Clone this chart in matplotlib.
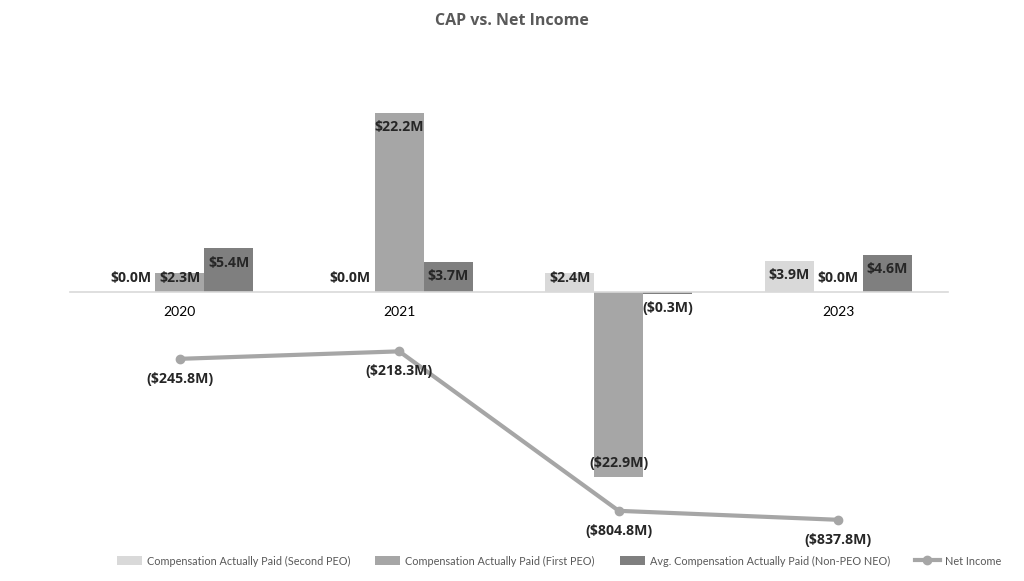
import numpy as np
import matplotlib
matplotlib.use("Agg")
import matplotlib.pyplot as plt
from matplotlib.lines import Line2D
from matplotlib.patches import Patch

plt.rcParams['font.family'] = ['Lato', 'DejaVu Sans']
bold_font = ['Open Sans', 'DejaVu Sans']

# data (in $M)
years = ['2020', '2021', '2022', '2023']
cap_second_peo = [0.0, 0.0, 2.4, 3.9]
cap_first_peo = [2.3, 22.2, -22.9, 0.0]
cap_non_peo = [5.4, 3.7, -0.3, 4.6]
net_income = [-245.8, -218.3, -804.8, -837.8]

series_names = ['Compensation Actually Paid (Second PEO)',
                'Compensation Actually Paid (First PEO)',
                'Avg. Compensation Actually Paid (Non-PEO NEO)']
bar_colors = ['#D9D9D9', '#A6A6A6', '#7F7F7F']
line_color = '#A6A6A6'
text_gray = '#595959'


def fmt(v):
    if v < 0:
        return '(${:.1f}M)'.format(abs(v))
    return '${:.1f}M'.format(v)


fig = plt.figure(figsize=(10.24, 5.81), dpi=100)
ax = fig.add_axes([70 / 1024, 47 / 581, 878 / 1024, 484 / 581])
ax2 = ax.twinx()

x = np.arange(len(years))
w = 0.223
for i, (vals, col) in enumerate(zip([cap_second_peo, cap_first_peo, cap_non_peo], bar_colors)):
    xs = x + (i - 1) * w
    ax.bar(xs, vals, width=w, color=col, zorder=2)
    for xi, v in zip(xs, vals):
        if v >= 0:
            ty = max(v - 1.75, 1.75)
        else:
            ty = min(v + 1.75, -2.0)
        ax.text(xi, ty, fmt(v), ha='center', va='center', fontsize=10.2,
                fontweight='bold', family=bold_font, color='#262626', zorder=4)

ax.set_xlim(-0.5, 3.5)
ax.set_ylim(-30, 30)
ax.set_xticks(x)
ax.set_xticklabels(years, fontsize=7.5, color=text_gray)
ax.tick_params(axis='x', length=0, pad=10)
ax.set_yticks([])
for s in ['top', 'left', 'right']:
    ax.spines[s].set_visible(False)
ax.spines['bottom'].set_position(('data', 0))
ax.spines['bottom'].set_color('#D9D9D9')
ax.spines['bottom'].set_linewidth(1.2)

# net income line on hidden secondary axis
ax2.plot(x, net_income, color=line_color, lw=3, marker='o', ms=6, zorder=3)
for xi, v in zip(x, net_income):
    ax2.annotate(fmt(v), (xi, v), xytext=(0, -20), textcoords='offset pixels',
                 ha='center', va='center', fontsize=10.2, fontweight='bold',
                 family=bold_font, color='#262626')
ax2.set_ylim(-890, 890)
ax2.set_yticks([])
for s in ax2.spines.values():
    s.set_visible(False)

fig.text(0.5, 1 - 21 / 581, 'CAP vs. Net Income', ha='center', va='center',
         fontsize=11.5, fontweight='bold', family=bold_font, color=text_gray)

handles = [Patch(facecolor=c, edgecolor='none') for c in bar_colors]
handles.append(Line2D([0], [0], color=line_color, lw=3, marker='o', ms=6))
labels = series_names + ['Net Income']
fig.legend(handles, labels, loc='center', ncol=4, frameon=False,
           bbox_to_anchor=(559 / 1024, 1 - 561 / 581), fontsize=7.8,
           labelcolor=text_gray, handlelength=2.3, handleheight=0.9,
           columnspacing=2.3, handletextpad=0.46)

fig.savefig('out.png', dpi=100, facecolor='white')
